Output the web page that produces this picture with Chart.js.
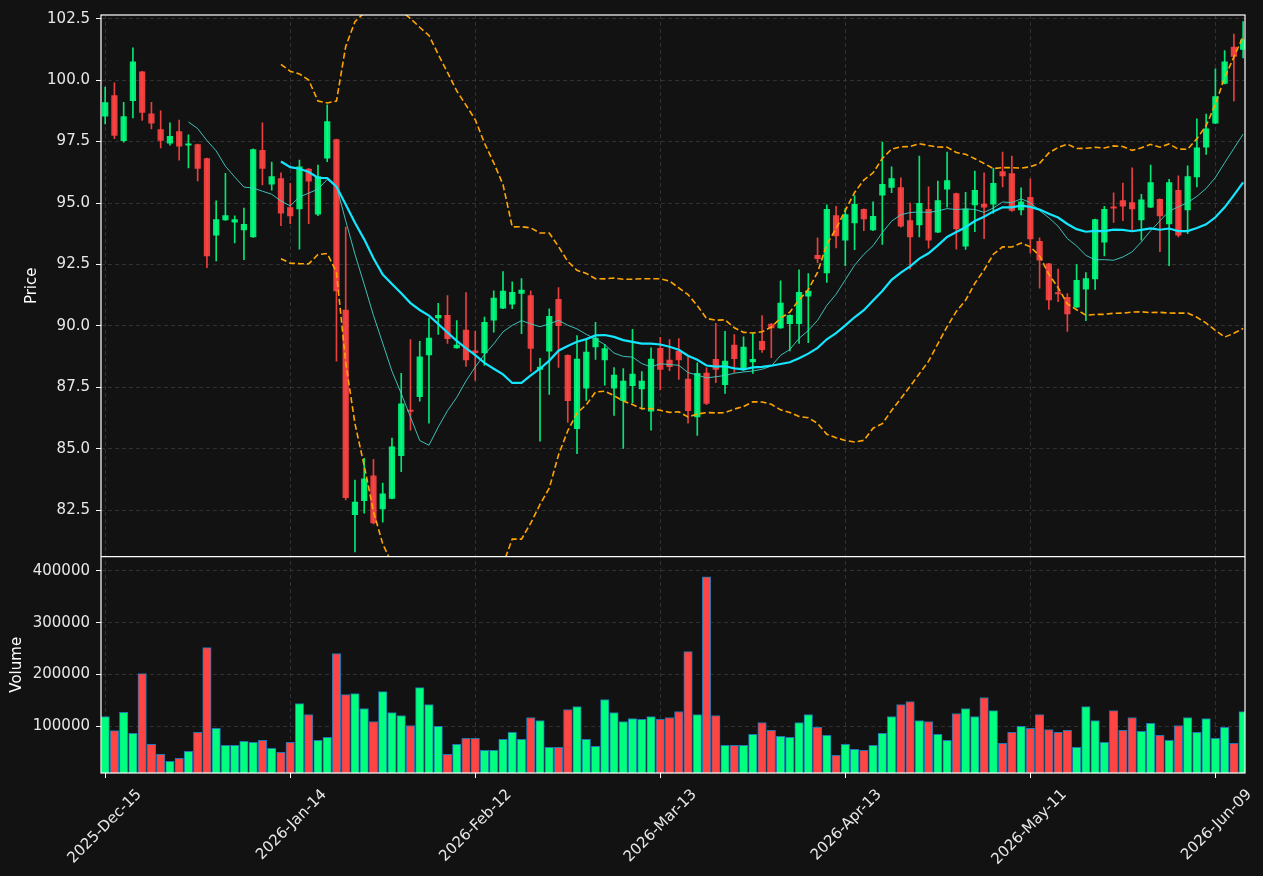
<!DOCTYPE html>
<html><head><meta charset="utf-8">
<script src="https://cdn.jsdelivr.net/npm/chart.js@4.4.1/dist/chart.umd.min.js"></script>
<style>html,body{margin:0;padding:0;background:#121212;overflow:hidden}</style>
</head><body>
<canvas id="c" width="1263" height="876"></canvas>
<script>
// ---- categories (trading days) ----
const dates = [
"2025-Dec-15","2025-Dec-16","2025-Dec-17","2025-Dec-18","2025-Dec-19","2025-Dec-22","2025-Dec-23","2025-Dec-24","2025-Dec-26","2025-Dec-29","2025-Dec-30","2025-Dec-31",
"2026-Jan-02","2026-Jan-05","2026-Jan-06","2026-Jan-07","2026-Jan-08","2026-Jan-09","2026-Jan-12","2026-Jan-13","2026-Jan-14","2026-Jan-15","2026-Jan-16","2026-Jan-20","2026-Jan-21","2026-Jan-22","2026-Jan-23","2026-Jan-26","2026-Jan-27","2026-Jan-28","2026-Jan-29","2026-Jan-30",
"2026-Feb-02","2026-Feb-03","2026-Feb-04","2026-Feb-05","2026-Feb-06","2026-Feb-09","2026-Feb-10","2026-Feb-11","2026-Feb-12","2026-Feb-13","2026-Feb-17","2026-Feb-18","2026-Feb-19","2026-Feb-20","2026-Feb-23","2026-Feb-24","2026-Feb-25","2026-Feb-26","2026-Feb-27",
"2026-Mar-02","2026-Mar-03","2026-Mar-04","2026-Mar-05","2026-Mar-06","2026-Mar-09","2026-Mar-10","2026-Mar-11","2026-Mar-12","2026-Mar-13","2026-Mar-16","2026-Mar-17","2026-Mar-18","2026-Mar-19","2026-Mar-20","2026-Mar-23","2026-Mar-24","2026-Mar-25","2026-Mar-26","2026-Mar-27","2026-Mar-30","2026-Mar-31",
"2026-Apr-01","2026-Apr-02","2026-Apr-06","2026-Apr-07","2026-Apr-08","2026-Apr-09","2026-Apr-10","2026-Apr-13","2026-Apr-14","2026-Apr-15","2026-Apr-16","2026-Apr-17","2026-Apr-20","2026-Apr-21","2026-Apr-22","2026-Apr-23","2026-Apr-24","2026-Apr-27","2026-Apr-28","2026-Apr-29","2026-Apr-30",
"2026-May-01","2026-May-04","2026-May-05","2026-May-06","2026-May-07","2026-May-08","2026-May-11","2026-May-12","2026-May-13","2026-May-14","2026-May-15","2026-May-18","2026-May-19","2026-May-20","2026-May-21","2026-May-22","2026-May-26","2026-May-27","2026-May-28","2026-May-29",
"2026-Jun-01","2026-Jun-02","2026-Jun-03","2026-Jun-04","2026-Jun-05","2026-Jun-08","2026-Jun-09","2026-Jun-10","2026-Jun-11","2026-Jun-12"
];

// ---- OHLC series ----
const opens = [
98.53,99.37,97.54,99.17,100.34,98.63,97.99,97.44,97.91,97.35,97.38,96.81,93.69,94.31,94.22,93.91,93.62,97.14,95.77,96.00,
94.82,94.76,96.38,94.55,96.83,97.58,90.65,82.32,82.89,83.90,82.56,82.99,84.72,86.56,87.12,88.82,90.33,90.43,89.11,89.83,
88.99,88.90,90.24,90.72,90.89,91.32,91.24,88.23,88.98,91.08,88.81,85.82,87.47,89.15,88.62,87.47,86.96,87.57,87.44,86.53,
89.09,88.61,88.98,87.84,86.30,88.08,88.64,87.61,89.22,88.23,88.54,89.38,90.08,89.92,90.09,90.09,91.21,92.87,92.16,94.49,
93.49,94.19,94.75,93.91,95.32,95.64,95.63,94.29,94.11,94.75,93.82,95.57,95.39,93.25,94.92,94.96,94.96,96.28,96.20,94.72,
95.23,93.44,92.53,91.34,91.17,90.77,91.50,91.91,93.41,94.82,95.10,95.02,94.31,94.83,95.15,94.15,95.52,94.72,96.06,97.27,
98.25,99.87,101.35,101.25];
const highs = [
99.72,99.89,99.10,101.31,100.36,99.10,98.75,98.26,98.38,97.78,97.40,96.83,95.09,96.21,94.48,94.80,97.21,98.26,96.67,96.23,
95.80,96.75,96.40,96.55,99.00,97.60,94.02,83.73,84.62,84.58,83.61,85.44,88.07,89.45,89.38,90.32,90.92,91.24,90.22,91.36,
89.78,90.36,91.43,92.21,91.80,91.93,91.43,88.68,90.70,91.56,88.83,89.61,89.49,90.15,89.25,88.31,88.27,89.86,88.14,89.11,
89.54,89.45,89.49,88.75,88.50,88.30,90.11,89.78,89.65,89.56,89.71,90.42,90.10,91.84,90.45,92.28,92.13,93.59,94.93,94.87,
94.78,95.30,94.77,95.05,97.48,96.47,96.03,95.00,96.91,95.66,95.89,97.07,95.41,95.44,96.30,96.23,96.41,97.07,96.91,95.62,
95.99,93.59,92.55,92.31,91.32,92.50,92.17,94.35,94.87,95.42,95.81,96.43,95.36,96.55,95.17,95.97,96.11,96.51,98.43,98.62,
100.46,101.20,101.87,102.38];
const lows = [
98.22,97.62,97.48,98.46,98.36,98.02,97.24,97.35,96.74,96.43,95.90,92.37,92.65,94.29,93.38,92.70,93.60,95.74,95.52,94.08,
94.16,93.12,94.16,94.49,96.68,88.57,82.92,80.81,82.39,81.95,82.02,82.97,84.07,85.76,86.94,86.05,89.66,89.29,89.10,88.35,
87.79,88.40,89.75,90.70,90.70,89.69,88.15,85.31,87.22,88.31,86.08,84.81,86.97,88.64,87.59,86.36,85.02,86.87,86.62,85.76,
87.40,88.18,87.83,86.05,85.55,86.80,87.69,87.26,88.11,88.18,88.07,88.92,88.71,89.90,88.99,89.29,89.32,92.58,91.77,93.18,
92.45,93.10,93.88,93.88,93.32,95.42,94.02,92.31,93.62,93.17,93.80,94.83,93.12,93.11,93.84,93.55,94.58,95.66,94.66,94.52,
92.97,91.54,90.67,90.99,89.78,90.75,90.22,91.49,92.85,94.21,94.28,93.85,93.49,94.81,93.02,92.45,93.62,93.76,95.66,96.98,
98.23,99.85,99.15,100.90];
const closes = [
99.09,97.75,98.52,100.74,98.69,98.25,97.55,97.71,97.31,97.38,96.41,92.85,94.33,94.49,94.33,94.13,97.18,96.41,96.08,94.59,
94.48,96.47,95.89,96.08,98.31,91.43,83.02,82.84,83.78,81.99,83.17,85.08,86.83,86.52,88.74,89.51,90.43,89.48,89.22,88.62,
88.91,90.15,91.13,91.42,91.37,91.46,89.09,88.33,90.39,90.01,86.96,88.65,88.94,89.51,89.08,88.00,87.76,88.04,87.76,88.65,
88.23,88.34,88.62,86.56,88.07,86.85,88.23,88.57,88.67,89.14,88.64,89.04,89.92,90.93,90.43,91.37,91.42,92.74,94.75,93.66,
94.53,94.95,94.35,94.46,95.76,96.00,94.06,93.62,94.99,93.49,95.10,95.91,93.95,94.76,95.52,94.83,95.80,96.10,94.70,95.05,
93.54,92.68,91.06,91.30,90.49,91.86,91.93,94.33,94.75,94.79,94.87,94.76,95.13,95.83,94.48,95.83,93.69,96.08,97.25,98.02,
99.33,100.74,100.97,101.64];
const volumes = [
119000,92000,127000,86500,202000,65400,46200,32700,38500,51900,88500,252000,96200,63500,63500,71200,69200,73100,57700,50000,
69200,144200,123100,73100,78800,240400,161500,163500,134600,109600,167300,126900,121200,101900,175000,142300,100000,46200,65400,76900,
76900,53800,53800,75000,88500,75000,117300,111500,59600,59600,132700,138500,75000,61500,151900,126900,109600,115400,113500,119200,
113500,117300,128800,244200,123100,388500,121200,63500,63500,63500,84600,107700,92300,80800,78800,107700,123100,98100,82700,44200,
65400,55800,53800,63500,86500,119200,142300,148100,111500,109600,84600,73100,125000,134600,119200,155800,130800,67300,88500,100000,
96200,123100,94200,88500,92300,59600,138500,111500,69200,130800,92300,117300,90400,105800,82700,73100,101900,117300,88500,115400,
76900,98100,67300,128800];

// ---- tick labels / positions ----
const dateTickIdx = [0,20,40,60,80,100,120];
const priceTicks = [82.5,85.0,87.5,90.0,92.5,95.0,97.5,100.0,102.5];
const volumeTicks = [100000,200000,300000,400000];

// ---- indicators derived from the closes (mav 10, mav 20, Bollinger 20/2) ----
function rollingMean(src,n){return src.map((_,i)=>i<n-1?null:src.slice(i-n+1,i+1).reduce((a,b)=>a+b,0)/n);}
function rollingStd(src,n){const m=rollingMean(src,n);return src.map((_,i)=>{if(i<n-1)return null;const w=src.slice(i-n+1,i+1);return Math.sqrt(w.reduce((a,b)=>a+(b-m[i])*(b-m[i]),0)/n);});}
const ma10 = rollingMean(closes,10);
const ma20 = rollingMean(closes,20);
const sd20 = rollingStd(closes,20);
const bbUpper = ma20.map((m,i)=>m===null?null:m+2*sd20[i]);
const bbLower = ma20.map((m,i)=>m===null?null:m-2*sd20[i]);

const idx = dates.map((_,i)=>i);
const up = closes.map((c,i)=>c>=opens[i]);
const UPC='rgba(0,255,127,0.9)', DNC='rgba(255,68,68,0.9)';
const candleCol = up.map(u=>u?UPC:DNC);
const volCol = up.map(u=>u?'#00ff7f':'#ff4444');
const pts = arr => idx.map(i=>({x:i,y:arr[i]}));

Chart.defaults.font.family = "'DejaVu Sans', sans-serif";
Chart.defaults.font.size = 15;

const GRID = '#3a3a3a', TXT = '#e8e8e8';

const bgPlugin = {id:'bg', beforeDraw(ch){const c=ch.ctx;c.save();c.fillStyle='#121212';c.fillRect(0,0,ch.width,ch.height);c.restore();}};
const clipPlugin = {id:'clipPanels',
  beforeDatasetDraw(ch,args){const ds=ch.data.datasets[args.index];const ys=ch.scales[ds.yAxisID];const xs=ch.scales.x;
    ch.ctx.save();ch.ctx.beginPath();ch.ctx.rect(xs.left,ys.top,xs.right-xs.left,ys.bottom-ys.top);ch.ctx.clip();},
  afterDatasetDraw(ch){ch.ctx.restore();}};
const framePlugin = {id:'frame', afterDraw(ch){const c=ch.ctx,a=ch.chartArea,yv=ch.scales.yv;c.save();c.strokeStyle='#ffffff';c.lineWidth=1.2;
  c.strokeRect(a.left,a.top,a.right-a.left,a.bottom-a.top);c.beginPath();c.moveTo(a.left,yv.top);c.lineTo(a.right,yv.top);c.stroke();c.restore();}};

const gridOpts = {offset:false,color:GRID,lineWidth:0.8,tickColor:'#ffffff',tickLength:5,tickWidth:1,tickBorderDash:[]};

new Chart(document.getElementById('c'), {
  data:{datasets:[
    {type:'line',label:'BB upper',data:pts(bbUpper),borderColor:'#ffa500',borderWidth:1.6,borderDash:[6,3],pointRadius:0,yAxisID:'y',xAxisID:'x',order:0,spanGaps:false},
    {type:'line',label:'BB lower',data:pts(bbLower),borderColor:'#ffa500',borderWidth:1.6,borderDash:[6,3],pointRadius:0,yAxisID:'y',xAxisID:'x',order:0,spanGaps:false},
    {type:'line',label:'MA20',data:pts(ma20),borderColor:'#14e6ff',borderWidth:2.2,pointRadius:0,yAxisID:'y',xAxisID:'x',order:0},
    {type:'line',label:'MA10',data:pts(ma10),borderColor:'rgba(64,208,200,0.9)',borderWidth:1,pointRadius:0,yAxisID:'y',xAxisID:'x',order:0},
    {type:'bar',label:'body',data:idx.map(i=>({x:i,y:[opens[i],closes[i]]})),backgroundColor:candleCol,barThickness:5.6,minBarLength:1.5,grouped:false,yAxisID:'y',xAxisID:'x',order:1},
    {type:'bar',label:'wick',data:idx.map(i=>({x:i,y:[lows[i],highs[i]]})),backgroundColor:candleCol,barThickness:1,grouped:false,yAxisID:'y',xAxisID:'x',order:2},
    {type:'bar',label:'Volume',data:idx.map(i=>({x:i,y:volumes[i]})),backgroundColor:volCol,borderColor:'#1f77b4',borderWidth:1,borderSkipped:false,barThickness:8.5,grouped:false,yAxisID:'yv',xAxisID:'x',order:3}
  ]},
  options:{
    responsive:false, animation:false, events:[],
    layout:{padding:{top:13,right:18,left:0,bottom:0}},
    plugins:{legend:{display:false},tooltip:{enabled:false}},
    scales:{
      x:{type:'linear',position:'bottom',min:-0.45,max:123.2,offset:false,
        afterBuildTicks:s=>{s.ticks=dateTickIdx.map(v=>({value:v}));},
        afterFit:s=>{s.height=103;},
        ticks:{autoSkip:false,minRotation:45,maxRotation:45,color:TXT,padding:8,labelOffset:34,callback:v=>dates[v]},
        grid:gridOpts,
        border:{display:false,dash:[4,3]}},
      y:{type:'linear',position:'left',stack:'panels',stackWeight:543,weight:2,min:80.62,max:102.65,
        afterBuildTicks:s=>{s.ticks=priceTicks.map(v=>({value:v}));},
        afterFit:s=>{s.width=101;},
        ticks:{color:TXT,padding:6,callback:v=>v.toFixed(1)},
        title:{display:true,text:'Price',color:'#ffffff',padding:{top:23,bottom:0}},
        grid:gridOpts,
        border:{display:false,dash:[4,3]}},
      yv:{type:'linear',position:'left',stack:'panels',stackWeight:217,weight:1,min:10250,max:427560,
        afterBuildTicks:s=>{s.ticks=volumeTicks.map(v=>({value:v}));},
        afterFit:s=>{s.width=101;},
        ticks:{color:TXT,padding:6,callback:v=>String(v)},
        title:{display:true,text:'Volume',color:'#ffffff',padding:{top:8,bottom:0}},
        grid:gridOpts,
        border:{display:false,dash:[4,3]}}
    }
  },
  plugins:[bgPlugin,clipPlugin,framePlugin]
});
</script>
</body></html>
